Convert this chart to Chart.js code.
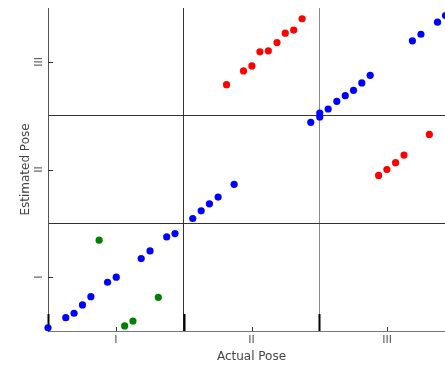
<!DOCTYPE html>
<html>
<head>
<meta charset="utf-8">
<script src="https://cdn.jsdelivr.net/npm/chart.js@4"></script>
<style>
  html, body { margin: 0; padding: 0; background: #fff; overflow: hidden; }
  #wrap { width: 445px; height: 366px; overflow: hidden; }
</style>
</head>
<body>
<div id="wrap"><canvas id="poseChart" width="460" height="366"></canvas></div>
<script>
// tick labels for the three pose classes
const poseLabels = ['I', 'II', 'III'];
const poseTicks = [1, 2, 3];
const dividers = [1.5, 2.5];

// correct estimates (blue)
const blueX = [0.5, 0.631, 0.692, 0.754, 0.816, 0.939, 1.003, 1.187, 1.252, 1.375, 1.436,
  1.567, 1.629, 1.69, 1.754, 1.872, 2.437, 2.503, 2.503, 2.565, 2.629, 2.691, 2.752,
  2.813, 2.875, 3.186, 3.249, 3.371, 3.43];
const blueY = [0.53, 0.624, 0.665, 0.742, 0.819, 0.953, 1.0, 1.173, 1.244, 1.374, 1.405,
  1.545, 1.616, 1.681, 1.744, 1.862, 2.438, 2.488, 2.525, 2.562, 2.633, 2.686, 2.735,
  2.804, 2.875, 3.195, 3.256, 3.368, 3.43];

// wrong estimates (red)
const redX = [1.816, 1.941, 2.003, 2.062, 2.124, 2.188, 2.249, 2.311, 2.373,
  2.937, 2.998, 3.062, 3.124, 3.311];
const redY = [2.788, 2.916, 2.962, 3.093, 3.102, 3.179, 3.266, 3.295, 3.4,
  1.945, 2.0, 2.063, 2.134, 2.326];

// green
const greenX = [0.877, 1.065, 1.126, 1.313];
const greenY = [1.344, 0.547, 0.593, 0.813];

function toPoints(xs, ys) {
  return xs.map((x, i) => ({ x: x, y: ys[i] }));
}

function romanFor(v) {
  const i = poseTicks.indexOf(v);
  return i >= 0 ? poseLabels[i] : '';
}

function setTicks(scale) {
  scale.ticks = [1, 1.5, 2, 2.5, 3].map(v => ({ value: v }));
}

function gridColor(ctx, axis) {
  if (!ctx.tick) return 'rgba(0,0,0,0)';
  if (ctx.tick.value === 1.5) return '#333333';
  if (ctx.tick.value === 2.5) return axis === 'x' ? '#8a8a8a' : '#333333';
  return 'rgba(0,0,0,0)';
}

// inward ticks, the black marks at the bottom and rotated y tick labels
const poseAxes = {
  id: 'poseAxes',
  beforeDatasetsDraw(chart) {
    const { ctx, chartArea, scales } = chart;
    const xs = scales.x, ys = scales.y;
    ctx.save();
    ctx.strokeStyle = '#333';
    ctx.lineWidth = 1;
    poseTicks.forEach(v => {
      const px = Math.round(xs.getPixelForValue(v)) + 0.5;
      ctx.beginPath();
      ctx.moveTo(px, chartArea.bottom);
      ctx.lineTo(px, chartArea.bottom - 4);
      ctx.stroke();
      const py = Math.round(ys.getPixelForValue(v)) + 0.5;
      ctx.beginPath();
      ctx.moveTo(chartArea.left, py);
      ctx.lineTo(chartArea.left + 5, py);
      ctx.stroke();
    });
    ctx.strokeStyle = '#000';
    ctx.lineWidth = 2;
    [0.5].concat(dividers).forEach(v => {
      const px = Math.round(xs.getPixelForValue(v)) + 0.5;
      ctx.beginPath();
      ctx.moveTo(px, chartArea.bottom);
      ctx.lineTo(px, chartArea.bottom - 17);
      ctx.stroke();
    });
    ctx.restore();
  },
  afterDraw(chart) {
    const { ctx, chartArea, scales } = chart;
    ctx.save();
    ctx.fillStyle = '#555';
    ctx.font = '11px "DejaVu Sans"';
    ctx.textAlign = 'center';
    ctx.textBaseline = 'middle';
    poseTicks.forEach((v, i) => {
      const py = scales.y.getPixelForValue(v);
      ctx.save();
      ctx.translate(chartArea.left - 8.5, py);
      ctx.rotate(-Math.PI / 2);
      ctx.fillText(poseLabels[i], 0, 0);
      ctx.restore();
    });
    ctx.restore();
  }
};

const ctx = document.getElementById('poseChart').getContext('2d');
new Chart(ctx, {
  type: 'scatter',
  data: {
    datasets: [
      { label: 'blue', data: toPoints(blueX, blueY), backgroundColor: '#0000ff' },
      { label: 'red', data: toPoints(redX, redY), backgroundColor: '#ff0000' },
      { label: 'green', data: toPoints(greenX, greenY), backgroundColor: '#008000' }
    ]
  },
  options: {
    responsive: false,
    animation: false,
    devicePixelRatio: 1,
    layout: { padding: { left: 0, top: 8, right: 5, bottom: 0 } },
    elements: { point: { radius: 3.6, borderWidth: 0, hoverRadius: 3.6 } },
    datasets: { scatter: { clip: false } },
    plugins: { legend: { display: false }, tooltip: { enabled: false } },
    scales: {
      x: {
        type: 'linear',
        min: 0.5,
        max: 3.5,
        afterBuildTicks: setTicks,
        afterFit(scale) { scale.height = 35; },
        ticks: {
          autoSkip: false,
          maxRotation: 0,
          padding: 3,
          color: '#555',
          font: { family: 'DejaVu Sans', size: 11 },
          callback: v => romanFor(v)
        },
        grid: { drawTicks: false, color: c => gridColor(c, 'x'), lineWidth: 1 },
        border: { display: true, color: '#777', width: 1 },
        title: {
          display: true,
          text: 'Actual Pose',
          color: '#444',
          font: { family: 'DejaVu Sans', size: 12 },
          padding: { top: 0, bottom: 2 }
        }
      },
      y: {
        type: 'linear',
        min: 0.5,
        max: 3.5,
        afterBuildTicks: setTicks,
        afterFit(scale) { scale.width = 48; },
        ticks: { display: false },
        grid: { drawTicks: false, color: c => gridColor(c, 'y'), lineWidth: 1 },
        border: { display: true, color: '#555', width: 1 },
        title: {
          display: true,
          text: 'Estimated Pose',
          color: '#444',
          font: { family: 'DejaVu Sans', size: 12 },
          padding: { top: 19, bottom: 0 }
        }
      }
    }
  },
  plugins: [poseAxes]
});
</script>
</body>
</html>
